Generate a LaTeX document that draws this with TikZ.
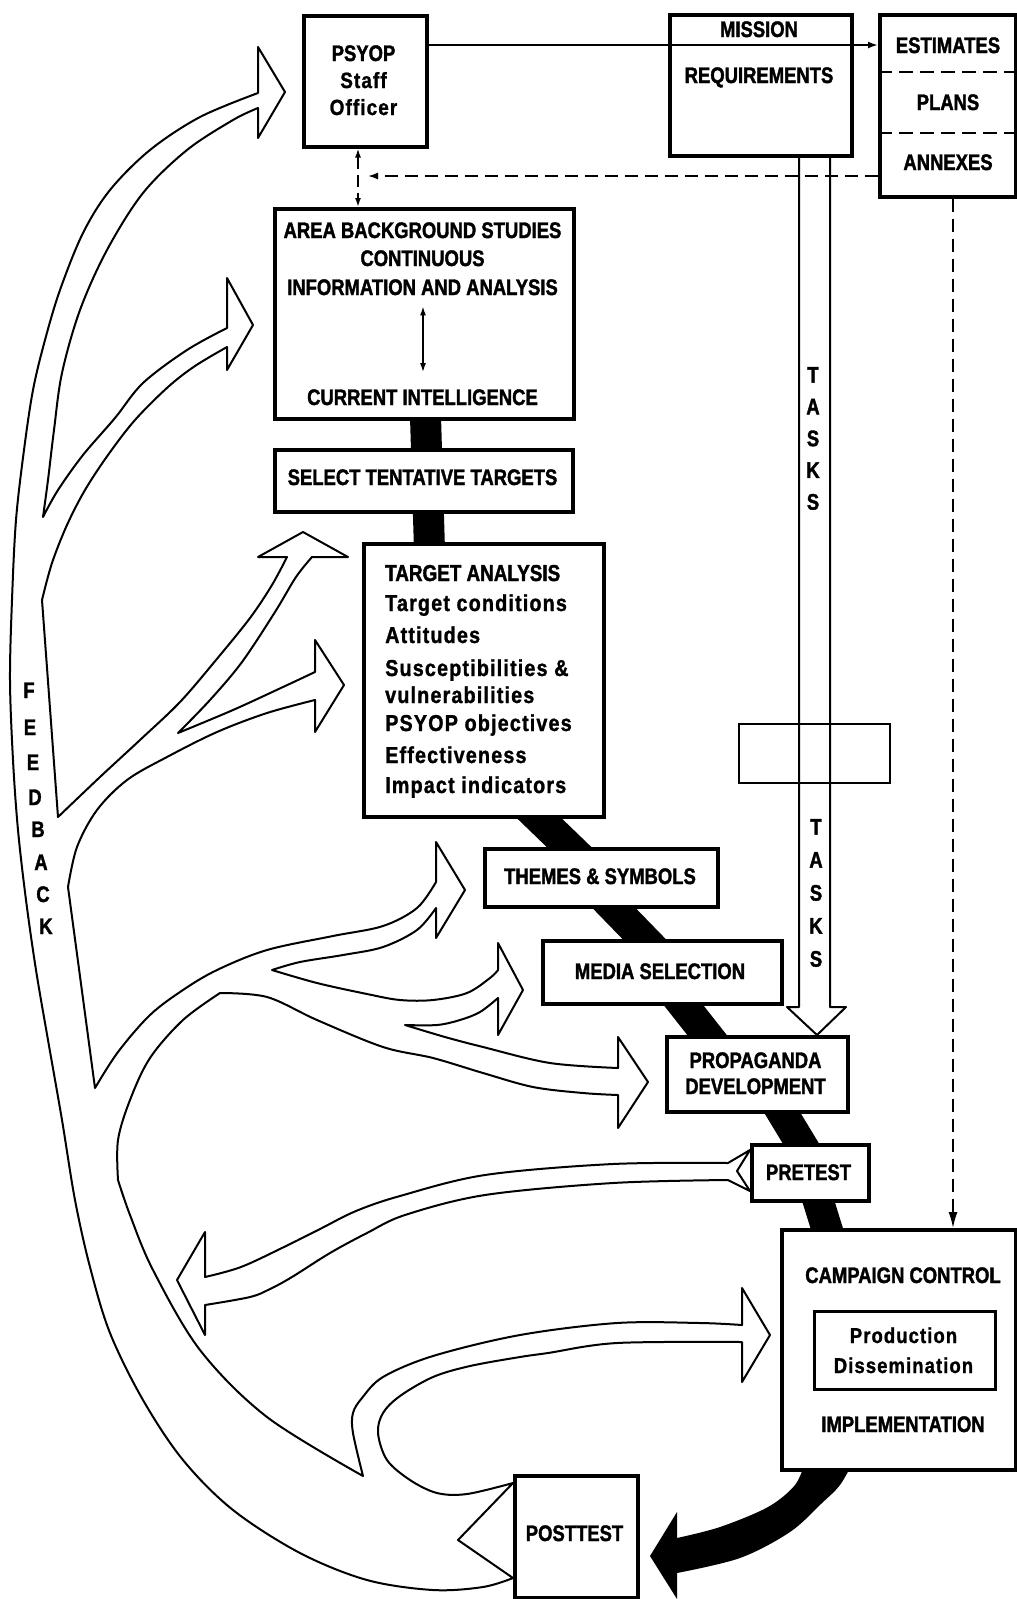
\documentclass[tikz,border=0pt]{standalone}
\usepackage{fontspec}
\setmainfont{Liberation Sans}
\newfontfamily\capf{Liberation Sans}[FakeStretch=0.82,BoldFeatures={FakeBold=1.6}]
\newfontfamily\mixf{Liberation Sans}[FakeStretch=0.86,LetterSpace=5,BoldFeatures={FakeBold=1.2}]
\usetikzlibrary{arrows.meta}
\begin{document}
\begin{tikzpicture}[x=1pt,y=-1pt,
  box/.style={draw, line width=3.5pt, fill=white, inner sep=0pt, anchor=north west},
  thinbox/.style={draw, line width=1.5pt, inner sep=0pt, anchor=north west},
  capt/.style={font=\capf\bfseries\fontsize{22.5}{27}\selectfont, inner sep=0pt, anchor=base},
  mixt/.style={font=\mixf\bfseries\fontsize{22}{27}\selectfont, inner sep=0pt, anchor=base},
  tat/.style={font=\mixf\bfseries\fontsize{23}{27}\selectfont, inner sep=0pt, anchor=base west},
  outl/.style={line width=2pt, line join=round},
  thinln/.style={line width=2pt},
  dashln/.style={line width=1.6pt, dash pattern=on 13pt off 7pt},
  band/.style={line width=31pt, line join=round},
  smallhead/.style={-{Latex[length=10pt,width=7pt]}},
]
\fill[white] (0,0) rectangle (1017,1599);
\useasboundingbox (0,0) rectangle (1017,1599);

% ---------- black process band ----------
\draw[band] (425,400) -- (431,600) -- (510,790) -- (582.5,860) -- (596.5,890) -- (659.6,955) -- (667.6,985) -- (722.8,1055) -- (768.5,1090) -- (810.9,1160) -- (813.3,1185) -- (833.5,1250);
\fill (853,1440) -- plot[smooth,tension=.55] coordinates {(853,1462) (840,1485) (822,1503) (790,1532) (740,1558) (677,1573)}
  -- (677,1599) -- (650,1556) -- (677,1512)
  -- plot[smooth,tension=.55] coordinates {(677,1538) (720,1527) (768,1507) (795,1485) (805,1462)} -- (805,1440) -- cycle;

% ---------- boxes ----------
\node[box, minimum width=123pt, minimum height=131pt] (psyop) at (302,14) {};
\node[box, minimum width=182pt, minimum height=141pt] (mission) at (668,13) {};
\node[box, minimum width=136pt, minimum height=182pt] (est) at (878,13) {};
\node[box, minimum width=299pt, minimum height=210pt] (area) at (273,207) {};
\node[box, minimum width=298pt, minimum height=62pt] (select) at (273,448) {};
\node[box, minimum width=240pt, minimum height=273pt] (ta) at (362,542) {};
\node[box, minimum width=233pt, minimum height=58pt] (themes) at (483,847) {};
\node[box, minimum width=239pt, minimum height=63pt] (media) at (541,939) {};
\node[box, minimum width=181pt, minimum height=75pt] (prop) at (665,1035) {};
\node[box, minimum width=117pt, minimum height=56pt] (pretest) at (750,1143) {};
\node[box, minimum width=234pt, minimum height=240pt] (camp) at (780,1228) {};
\node[box, line width=3pt, minimum width=181pt, minimum height=78pt] (prod) at (813,1310) {};
\node[box, minimum width=123pt, minimum height=122pt] (post) at (513,1474) {};

% dashed dividers in estimates box
\draw[dashln, dash pattern=on 14pt off 7pt] (est.west |- 0,72) coordinate (d1) -- (est.east |- d1);
\draw[dashln, dash pattern=on 14pt off 7pt] (est.west |- 0,133) coordinate (d2) -- (est.east |- d2);

% ---------- texts ----------
\node[capt] (t1) at (363.5,61) {PSYOP};
\node[mixt] (t2) at (363.5,88) {Staff};
\node[mixt] (t3) at (363.5,115) {Officer};
\node[capt] (t4) at (759,37) {MISSION};
\node[capt] (t5) at (759,83) {REQUIREMENTS};
\node[capt] (t6) at (948,53) {ESTIMATES};
\node[capt] (t7) at (948,110) {PLANS};
\node[capt] (t8) at (948,170) {ANNEXES};
\node[capt] (t9) at (422.5,238) {AREA BACKGROUND STUDIES};
\node[capt] (t10) at (422.5,266) {CONTINUOUS};
\node[capt] (tinfo) at (422.5,295) {INFORMATION AND ANALYSIS};
\node[capt] (tcur) at (422.5,405) {CURRENT INTELLIGENCE};
\node[capt] (t13) at (422.5,485) {SELECT TENTATIVE TARGETS};
\node[capt, anchor=base west, font=\capf\bfseries\fontsize{23}{27}\selectfont] (t14) at (385,581) {TARGET ANALYSIS};
\node[tat] (t15) at (385,611) {Target conditions};
\node[tat] (t16) at (385,643) {Attitudes};
\node[tat] (t17) at (385,676) {Susceptibilities \&};
\node[tat] (t18) at (385,703) {vulnerabilities};
\node[tat] (t19) at (385,731) {PSYOP objectives};
\node[tat] (t20) at (385,763) {Effectiveness};
\node[tat] (t21) at (385,793) {Impact indicators};
\node[capt] (t22) at (600,884) {THEMES \& SYMBOLS};
\node[capt] (t23) at (660,979) {MEDIA SELECTION};
\node[capt] (t24) at (755.5,1068) {PROPAGANDA};
\node[capt] (t25) at (755.5,1094) {DEVELOPMENT};
\node[capt] (t26) at (808.5,1180) {PRETEST};
\node[capt] (t27) at (903,1283) {CAMPAIGN CONTROL};
\node[mixt, font=\mixf\bfseries\fontsize{21.5}{27}\selectfont] (t28) at (903.5,1343) {Production};
\node[mixt, font=\mixf\bfseries\fontsize{21.5}{27}\selectfont] (t29) at (903.5,1373) {Dissemination};
\node[capt] (t30) at (903,1432) {IMPLEMENTATION};
\node[capt] (t31) at (574.5,1541) {POSTTEST};
\node[capt, anchor=center, align=center, font=\capf\bfseries\fontsize{22.5}{31.75}\selectfont] (tasks1) at (813,438.5) {T\\A\\S\\K\\S};
\node[capt, anchor=center, align=center, font=\capf\bfseries\fontsize{22.5}{33}\selectfont] (tasks2) at (816,893) {T\\A\\S\\K\\S};
\node[capt] (f1) at (29,698) {F};
\node[capt] (f2) at (30,735) {E};
\node[capt] (f3) at (33,770) {E};
\node[capt] (f4) at (35,805) {D};
\node[capt] (f5) at (38,837) {B};
\node[capt] (f6) at (41,870) {A};
\node[capt] (f7) at (43,902) {C};
\node[capt] (f8) at (46,934) {K};

% ---------- connectors ----------
\coordinate (lvl) at (0,45);
\draw[thinln, smallhead] (psyop.east |- lvl) -- (est.west |- lvl);
\coordinate (xpa) at (358,0);
\draw[dashln, dash pattern=on 12pt off 6pt, {Latex[length=9pt,width=6pt]}-{Latex[length=9pt,width=6pt]}] (psyop.south -| xpa) -- (area.north -| xpa);
\coordinate (annend) at (368,176);
\draw[dashln, smallhead] (est.west |- annend) -- (annend);
\coordinate (xd) at (953,0);
\draw[dashln, -{Latex[length=16pt,width=9pt]}] (est.south -| xd) -- (camp.north -| xd);
\draw[line width=1.5pt, {Latex[length=9pt,width=6pt]}-{Latex[length=9pt,width=6pt]}, shorten <=11pt, shorten >=17pt] (tinfo.south -| 423,0) -- (tcur.north -| 423,0);

% TASKS hollow arrow
\coordinate (tl) at (799,0);
\coordinate (tr) at (830,0);
\coordinate (tip) at (817,0);
\draw[outl] (mission.south -| tl) -- (799,1007) -- (787,1007) -- (prop.north -| tip) -- (846,1007) -- (830,1007) -- (mission.south -| tr);
\node[thinbox, minimum width=151pt, minimum height=59pt] (tbox) at (738,723) {};

% ---------- feedback outline ----------
\draw[outl]
 (258,93) -- (258,47) -- (285,92) -- (258,138) -- (258,108)
 -- plot[smooth,tension=.55] coordinates {(258,108) (233,120) (187,150) (143,193) (107,250) (80,310) (62,373) (54,430) (48,480) (43,517)}
 -- plot[smooth,tension=.55] coordinates {(43,517) (58,490) (83,455) (115,418) (143,383) (187,350) (227,328)}
 -- (227,278) -- (253,325) -- (227,370) -- (227,347)
 -- plot[smooth,tension=.55] coordinates {(227,347) (195,366) (168,387) (135,420) (108,455) (85,490) (67,525) (52,563) (42,600)}
 -- (58,817)
 -- plot[smooth,tension=.55] coordinates {(58,817) (100,777) (140,740) (180,702) (216,660) (250,618) (272,585) (287,557)}
 -- (258,557) -- (303,532) -- (348,557) -- (312,557)
 -- plot[smooth,tension=.55] coordinates {(312,557) (296,577) (275,612) (242,662) (210,700) (178,733)}
 -- plot[smooth,tension=.55] coordinates {(178,733) (233,710) (283,687) (315,672)}
 -- (315,640) -- (344,685) -- (315,732) -- (315,700)
 -- plot[smooth,tension=.55] coordinates {(315,700) (267,713) (217,732) (167,757) (127,780) (97,810) (77,847) (68,887)}
 -- (95,1088)
 -- plot[smooth,tension=.55] coordinates {(95,1088) (118,1052) (150,1015) (183,990) (217,970) (267,950) (333,936) (383,926) (417,908) (436,882)}
 -- (436,842) -- (465,890) -- (436,938) -- (436,908)
 -- plot[smooth,tension=.55] coordinates {(436,908) (417,930) (383,947) (343,955) (300,962) (272,970)}
 -- plot[smooth,tension=.55] coordinates {(272,970) (317,983) (367,994) (400,1000) (433,1000) (467,993) (490,978) (498,970)}
 -- (498,943) -- (523,990) -- (498,1035) -- (498,998)
 -- plot[smooth,tension=.55] coordinates {(498,998) (480,1012) (460,1020) (437,1025) (405,1025)}
 -- plot[smooth,tension=.55] coordinates {(405,1025) (445,1037) (483,1047) (550,1063) (618,1068)}
 -- (618,1037) -- (648,1082) -- (618,1128) -- (618,1095)
 -- plot[smooth,tension=.55] coordinates {(618,1095) (583,1093) (533,1087) (483,1073) (433,1058) (383,1047) (317,1020) (267,997) (220,993)}
 -- plot[smooth,tension=.55] coordinates {(220,993) (183,1020) (150,1058) (130,1100) (118,1140) (118,1180)}
 -- plot[smooth,tension=.55] coordinates {(118,1180) (130,1215) (153,1270) (200,1350) (267,1417) (363,1476)}
 -- plot[smooth,tension=.55] coordinates {(363,1476) (353,1433) (353,1413) (362,1398) (383,1377) (433,1356) (520,1335) (617,1323) (700,1323) (742,1325)}
 -- (742,1288) -- (770,1335) -- (742,1382) -- (742,1342)
 -- plot[smooth,tension=.55] coordinates {(742,1342) (617,1343) (548,1353) (520,1357) (470,1366) (433,1377) (400,1396) (383,1413) (378,1433) (387,1460) (410,1480) (437,1493) (467,1494) (513,1483)}
 -- (458,1540) -- (513,1578)
 -- plot[smooth,tension=.55] coordinates {(513,1578) (483,1587) (433,1590) (367,1580) (300,1553) (233,1510) (183,1460) (143,1400) (110,1333) (90,1267) (75,1200) (62,1120) (48,1040) (36,970) (26,900) (18,830) (13,760) (10,680) (12,600) (16,520) (24,450) (33,390) (45,340) (60,290) (83,233) (110,190) (150,150) (200,117) (258,93)}
 -- cycle;

% ---------- pretest return arrow ----------
\draw[outl] (750,1150) -- (728,1163)
 -- plot[smooth,tension=.55] coordinates {(728,1163) (613,1164) (485,1175) (400,1196) (356,1211) (320,1229) (284,1247) (241,1267) (205,1277)}
 -- (205,1232) -- (177,1280) -- (205,1335) -- (205,1305)
 -- plot[smooth,tension=.55] coordinates {(205,1305) (250,1297) (270,1289) (292,1277) (330,1253) (367,1233) (405,1215) (485,1195) (613,1183) (728,1180)}
 -- (750,1191) -- (737,1171) -- cycle;
\end{tikzpicture}
\end{document}
